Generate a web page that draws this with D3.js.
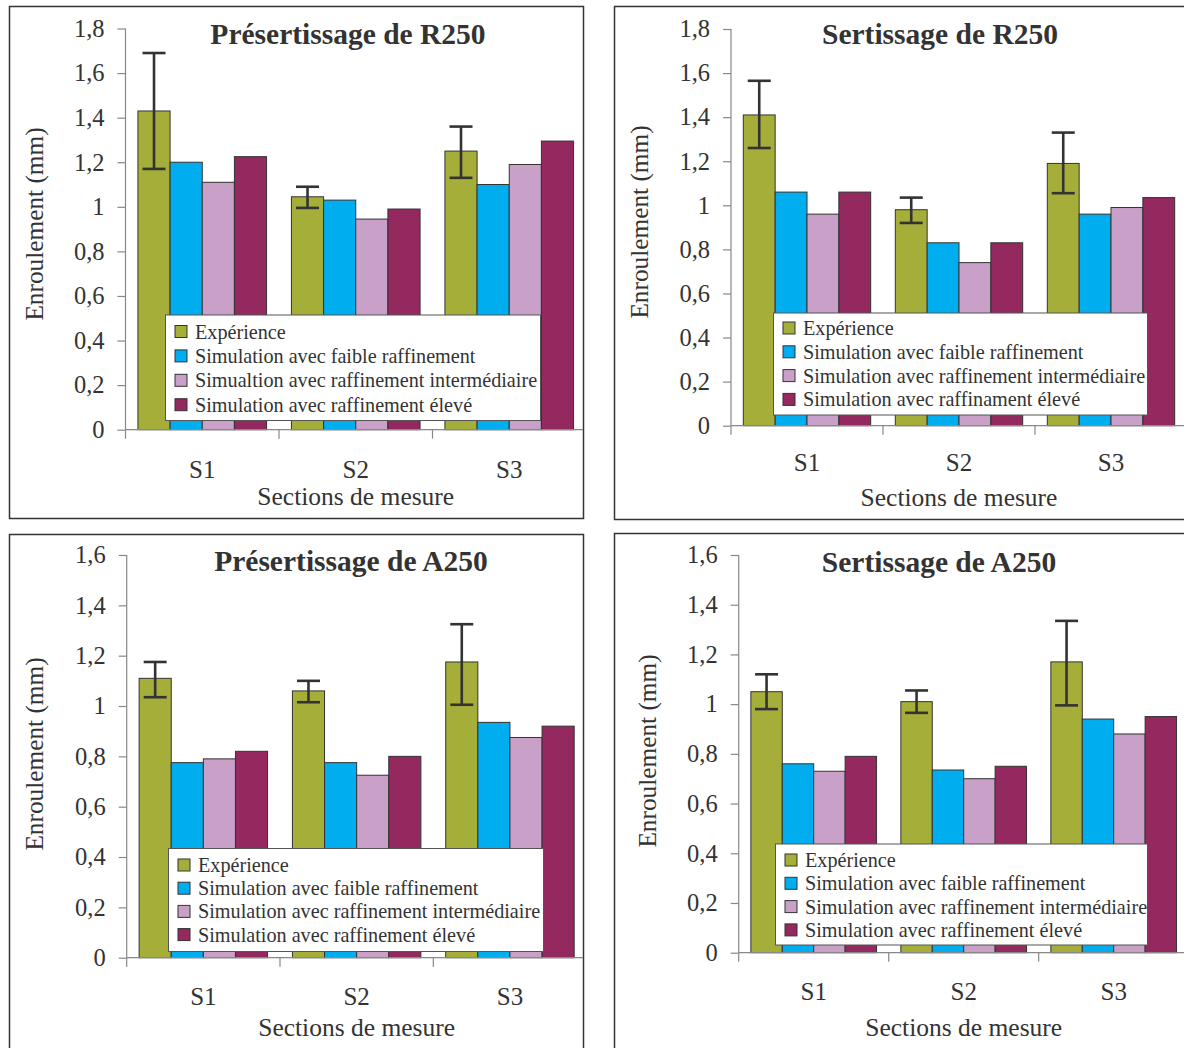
<!DOCTYPE html>
<html><head><meta charset="utf-8">
<script src="https://cdn.jsdelivr.net/npm/d3@7"></script>
<style>
html,body{margin:0;padding:0;background:#fff;}
svg{display:block;}
text{font-family:"Liberation Serif","Times New Roman",serif;fill:#333;}
</style></head>
<body>
<script>
// ---------- DATA ----------
const categories = ["S1", "S2", "S3"];
const seriesKeys = ["exp", "low", "mid", "high"];
const seriesColors = ["#A6AE3A", "#00AEEF", "#C8A0C8", "#93295E"];

const yTicksR = [0, 0.2, 0.4, 0.6, 0.8, 1, 1.2, 1.4, 1.6, 1.8];
const yTicksA = [0, 0.2, 0.4, 0.6, 0.8, 1, 1.2, 1.4, 1.6];

const titles = ["Présertissage de R250", "Sertissage de R250", "Présertissage de A250", "Sertissage de A250"];
const yAxisLabel = "Enroulement (mm)";
const xAxisLabel = "Sections de mesure";

const legendPresR250 = ["Expérience", "Simulation avec faible raffinement", "Simualtion avec raffinement intermédiaire", "Simulation avec raffinement élevé"];
const legendSertR250 = ["Expérience", "Simulation avec faible raffinement", "Simulation avec raffinement intermédiaire", "Simulation avec raffinament élevé"];
const legendPresA250 = ["Expérience", "Simulation avec faible raffinement", "Simulation avec raffinement intermédiaire", "Simulation avec raffinement élevé"];
const legendSertA250 = ["Expérience", "Simulation avec faible raffinement", "Simulation avec raffinement intermédiaire", "Simulation avec raffinement élevé"];

// Présertissage R250
const presR250Exp  = [1.43, 1.045, 1.25];
const presR250Err  = [[1.17, 1.69], [0.995, 1.09], [1.13, 1.36]];
const presR250Low  = [1.20, 1.03, 1.10];
const presR250Mid  = [1.11, 0.945, 1.19];
const presR250High = [1.225, 0.99, 1.295];

// Sertissage R250
const sertR250Exp  = [1.41, 0.98, 1.19];
const sertR250Err  = [[1.26, 1.565], [0.92, 1.035], [1.055, 1.33]];
const sertR250Low  = [1.06, 0.83, 0.96];
const sertR250Mid  = [0.96, 0.74, 0.99];
const sertR250High = [1.06, 0.83, 1.035];

// Présertissage A250
const presA250Exp  = [1.11, 1.06, 1.175];
const presA250Err  = [[1.035, 1.175], [1.015, 1.10], [1.005, 1.325]];
const presA250Low  = [0.775, 0.775, 0.935];
const presA250Mid  = [0.79, 0.725, 0.875];
const presA250High = [0.82, 0.80, 0.92];

// Sertissage A250
const sertA250Exp  = [1.05, 1.01, 1.17];
const sertA250Err  = [[0.98, 1.12], [0.965, 1.055], [0.995, 1.335]];
const sertA250Low  = [0.76, 0.735, 0.94];
const sertA250Mid  = [0.73, 0.70, 0.88];
const sertA250High = [0.79, 0.75, 0.95];

// ---------- BUILD ----------
function rows(exp, low, mid, high, err) {
  return categories.map((c, i) => ({cat: c, exp: exp[i], low: low[i], mid: mid[i], high: high[i], err: err[i]}));
}

const panels = [
  {title: titles[0], data: rows(presR250Exp, presR250Low, presR250Mid, presR250High, presR250Err), ticks: yTicksR, legend: legendPresR250,
   frame: [9, 6, 583, 518], ax: 125.5, y0: 429.7, yTop: 28.5, cw: 153.5, titleX: 348, titleY: 44, ylabX: 34, ylabY: 224, catDy: 48, secY: 505,
   lg: {x: 165, y: 314.5, w: 375, h: 105.5, r0: 331.5, step: 24.4}},
  {title: titles[1], data: rows(sertR250Exp, sertR250Low, sertR250Mid, sertR250High, sertR250Err), ticks: yTicksR, legend: legendSertR250,
   frame: [614, 6, 1192, 519], ax: 731, y0: 425.7, yTop: 29, cw: 152, titleX: 940, titleY: 44, ylabX: 639, ylabY: 222, catDy: 45, secY: 506,
   lg: {x: 773, y: 312.5, w: 374, h: 102, r0: 328, step: 23.8}},
  {title: titles[2], data: rows(presA250Exp, presA250Low, presA250Mid, presA250High, presA250Err), ticks: yTicksA, legend: legendPresA250,
   frame: [9, 534, 583, 1060], ax: 126.7, y0: 957.7, yTop: 555, cw: 153.3, titleX: 351, titleY: 571, ylabX: 34, ylabY: 754, catDy: 47.5, secY: 1036,
   lg: {x: 168, y: 848, w: 375, h: 103, r0: 865, step: 23.2}},
  {title: titles[3], data: rows(sertA250Exp, sertA250Low, sertA250Mid, sertA250High, sertA250Err), ticks: yTicksA, legend: legendSertA250,
   frame: [614, 533, 1192, 1060], ax: 738.7, y0: 952.7, yTop: 555, cw: 150, titleX: 939, titleY: 572, ylabX: 647, ylabY: 751, catDy: 47.5, secY: 1036,
   lg: {x: 775, y: 843.5, w: 372, h: 101, r0: 860, step: 23.3}}
];

const svg = d3.select("body").append("svg").attr("width", 1184).attr("height", 1048);
const fmt = d => String(d).replace(".", ",");

panels.forEach(p => {
  const g = svg.append("g");
  const [fx0, fy0, fx1, fy1] = p.frame;
  g.append("rect").attr("x", fx0 + 0.5).attr("y", fy0 + 0.5).attr("width", fx1 - fx0).attr("height", fy1 - fy0)
    .attr("fill", "#fff").attr("stroke", "#333").attr("stroke-width", 1.5);

  const yMax = p.ticks[p.ticks.length - 1];
  const y = d3.scaleLinear().domain([0, yMax]).range([p.y0, p.yTop]);
  const x0 = d3.scaleBand().domain(categories).range([p.ax, p.ax + 3 * p.cw]).padding(0);
  const gap = p.cw * 0.081;
  const x1 = d3.scaleBand().domain(seriesKeys).range([gap, p.cw - gap]).padding(0);
  const color = d3.scaleOrdinal().domain(seriesKeys).range(seriesColors);

  const clipId = "clip" + fx0 + "_" + fy0;
  svg.append("clipPath").attr("id", clipId).append("rect")
    .attr("x", fx0 + 1).attr("y", fy0 + 1).attr("width", fx1 - fx0 - 1).attr("height", fy1 - fy0 - 1);
  const inner = g.append("g").attr("clip-path", `url(#${clipId})`);

  // bars
  const grp = inner.selectAll("g.cat").data(p.data).join("g").attr("class", "cat")
    .attr("transform", d => `translate(${x0(d.cat)},0)`);
  grp.selectAll("rect").data(d => seriesKeys.map(k => ({key: k, value: d[k]}))).join("rect")
    .attr("x", d => x1(d.key)).attr("width", x1.bandwidth())
    .attr("y", d => y(d.value)).attr("height", d => y(0) - y(d.value))
    .attr("fill", d => color(d.key)).attr("stroke", "#333").attr("stroke-width", 1);

  // error bars
  const eb = grp.append("g").attr("stroke", "#333").attr("stroke-width", 2.6);
  const cx = x1("exp") + x1.bandwidth() / 2;
  eb.append("line").attr("x1", cx).attr("x2", cx).attr("y1", d => y(d.err[0])).attr("y2", d => y(d.err[1]));
  eb.append("line").attr("x1", cx - 11.5).attr("x2", cx + 11.5).attr("y1", d => y(d.err[0])).attr("y2", d => y(d.err[0]));
  eb.append("line").attr("x1", cx - 11.5).attr("x2", cx + 11.5).attr("y1", d => y(d.err[1])).attr("y2", d => y(d.err[1]));

  // y axis
  const ya = inner.append("g").attr("transform", `translate(${p.ax},0)`)
    .call(d3.axisLeft(y).tickValues(p.ticks).tickSize(8).tickPadding(13).tickFormat(fmt));
  ya.select(".domain").remove();
  ya.selectAll(".tick line").attr("stroke", "#888").attr("stroke-width", 1.2);
  ya.selectAll("text").attr("font-size", 24.5).attr("fill", "#333");
  inner.append("line").attr("x1", p.ax).attr("x2", p.ax).attr("y1", p.yTop).attr("y2", p.y0 + 9)
    .attr("stroke", "#888").attr("stroke-width", 1.2);

  // x axis
  inner.append("line").attr("x1", p.ax).attr("x2", p.ax + 3 * p.cw).attr("y1", p.y0).attr("y2", p.y0)
    .attr("stroke", "#888").attr("stroke-width", 1.2);
  inner.selectAll("line.bnd").data(categories).join("line").attr("class", "bnd")
    .attr("x1", (d, i) => p.ax + (i + 1) * p.cw).attr("x2", (d, i) => p.ax + (i + 1) * p.cw)
    .attr("y1", p.y0).attr("y2", p.y0 + 9).attr("stroke", "#888").attr("stroke-width", 1.2);
  const xa = inner.append("g").attr("transform", `translate(0,${p.y0})`)
    .call(d3.axisBottom(x0).tickSize(0).tickPadding(0));
  xa.select(".domain").remove();
  xa.selectAll("text").attr("dy", 0).attr("y", p.catDy).attr("font-size", 25).attr("fill", "#333");

  // titles
  g.append("text").attr("x", p.titleX).attr("y", p.titleY).attr("text-anchor", "middle")
    .attr("font-size", 29.5).attr("font-weight", "bold").text(p.title);
  g.append("text").attr("x", p.ax + 1.5 * p.cw).attr("y", p.secY).attr("text-anchor", "middle")
    .attr("font-size", 25.5).text(xAxisLabel);
  g.append("text").attr("transform", `translate(${p.ylabX},${p.ylabY}) rotate(-90)`)
    .attr("text-anchor", "middle").attr("dominant-baseline", "central")
    .attr("font-size", 25.3).text(yAxisLabel);

  // legend
  const L = p.lg;
  const lg = g.append("g");
  lg.append("rect").attr("x", L.x + 0.5).attr("y", L.y + 0.5).attr("width", L.w).attr("height", L.h)
    .attr("fill", "#fff").attr("stroke", "#555").attr("stroke-width", 1);
  const items = lg.selectAll("g.item").data(seriesKeys).join("g").attr("class", "item")
    .attr("transform", (d, i) => `translate(${L.x},${L.r0 + i * L.step})`);
  items.append("rect").attr("x", 10).attr("y", -6).attr("width", 12).attr("height", 12)
    .attr("fill", d => color(d)).attr("stroke", "#333").attr("stroke-width", 1);
  items.append("text").attr("x", 30).attr("y", 0).attr("dominant-baseline", "central")
    .attr("font-size", 20.2).text((d, i) => p.legend[i]);
});
</script>
</body></html>
